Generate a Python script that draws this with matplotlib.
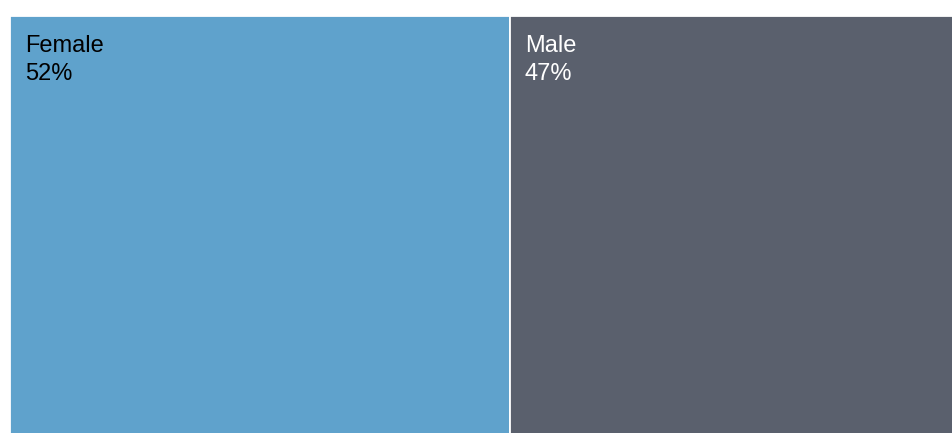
#!/usr/bin/python3

import matplotlib
matplotlib.use("Agg")
import matplotlib.pyplot as plt

# treemap data (sizes, labels as shown)
labels = ["Female", "Male"]
sizes = [52.4, 46.6]
pct_labels = ["52%", "47%"]
colors = ["#5fa2cc", "#5a606d"]
text_colors = ["black", "white"]


def main():
    plt.rcParams['font.family'] = ['Liberation Sans', 'DejaVu Sans']

    fig = plt.figure(figsize=(9.53, 4.33), dpi=100)
    ax = fig.add_axes([10.3 / 953, -0.01, 943.5 / 953, 421 / 433])

    total = sum(sizes)
    lefts = [sum(sizes[:i]) for i in range(len(sizes))]

    ax.bar(lefts, [1] * len(sizes), width=sizes, align='edge',
           color=colors, edgecolor='white', linewidth=1.3)

    for left, lab, pct, tc in zip(lefts, labels, pct_labels, text_colors):
        ax.annotate(f"{lab}\n{pct}", xy=(left, 1), xytext=(15, -19),
                    textcoords='offset pixels', ha='left', va='top',
                    fontsize=17, color=tc, linespacing=1.35)

    ax.set_xlim(0, total)
    ax.set_ylim(0, 1)
    ax.axis('off')

    fig.savefig("out.png", dpi=100)


if __name__ == "__main__":
    main()
